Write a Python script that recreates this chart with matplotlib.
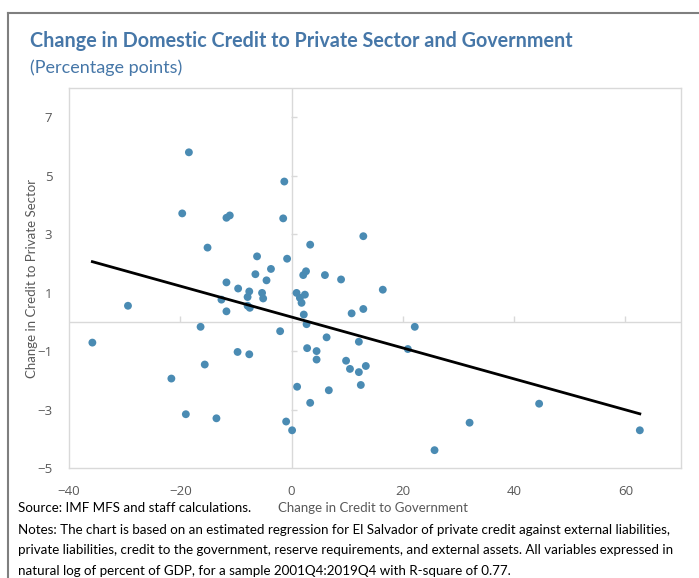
import numpy as np
import matplotlib
matplotlib.use('Agg')
import matplotlib.pyplot as plt
from matplotlib.lines import Line2D
from matplotlib.transforms import offset_copy

# change in credit to government (x) and to private sector (y), pp
gov = [-35.8, -29.4, -21.6, -19.65, -19.0, -18.45, -16.35, -15.6, -15.1, -13.5,
       -12.6, -11.7, -11.1, -11.7, -11.7, -9.6, -9.7, -7.6, -7.9, -7.9,
       -7.5, -7.6, -6.5, -6.2, -5.3, -5.1, -4.5, -3.7, -2.05, -1.5,
       -1.3, -0.8, -0.97, 0.1, 0.9, 1.0, 1.5, 1.8, 2.1, 2.6,
       2.4, 2.2, 2.7, 2.8, 3.35, 3.35, 4.5, 4.5, 6.0, 6.3,
       6.7, 8.9, 9.8, 10.5, 10.8, 12.1, 12.1, 12.45, 12.9, 12.9,
       13.35, 16.4, 20.9, 22.15, 25.7, 32.0, 44.5, 62.6]
priv = [-0.71, 0.55, -1.94, 3.71, -3.16, 5.80, -0.17, -1.46, 2.54, -3.30,
        0.76, 3.56, 3.64, 1.35, 0.36, 1.14, -1.03, 1.04, 0.85, 0.55,
        0.48, -1.11, 1.63, 2.24, 0.99, 0.80, 1.42, 1.81, -0.32, 3.54,
        4.80, 2.16, -3.41, -3.71, 0.99, -2.22, 0.82, 0.65, 1.60, 1.73,
        0.93, 0.25, -0.08, -0.90, 2.64, -2.77, -1.00, -1.29, 1.60, -0.53,
        -2.34, 1.45, -1.33, -1.61, 0.29, -0.68, -1.72, -2.16, 2.93, 0.44,
        -1.51, 1.10, -0.93, -0.17, -4.39, -3.45, -2.80, -3.71]

# fitted trend line
trend_slope = -0.0529
trend_icept = 0.165

xticks = [-40, -20, 0, 20, 40, 60]
yticks = [-5, -3, -1, 1, 3, 5, 7]

blue = '#4A8BB3'
title_blue = '#4677A8'
grey_txt = '#595959'
grid_grey = '#D9D9D9'

fig = plt.figure(figsize=(6.99, 5.78), dpi=100)
ax = fig.add_axes([69/699, 1 - 468/578, (681 - 69)/699, (468 - 88)/578])

ax.scatter(gov, priv, s=32, color=blue, edgecolors='none', zorder=3)
tx = np.array([min(gov), max(gov)])
ax.plot(tx, trend_icept + trend_slope * tx, color='black', lw=2, zorder=4)

ax.set_xlim(-40, 70)
ax.set_ylim(-5, 8)
ax.set_xticks(xticks)
ax.set_yticks(yticks)
ax.tick_params(length=0, labelsize=9.5, labelcolor=grey_txt)
ax.tick_params(axis='x', pad=12)
ax.tick_params(axis='y', pad=12)
for lab in ax.get_xticklabels() + ax.get_yticklabels():
    lab.set_family('Open Sans')
for sp in ax.spines.values():
    sp.set_color(grid_grey)
    sp.set_linewidth(1)

# axes crossing at zero, with small tick marks
ax.axhline(0, color=grid_grey, lw=1, zorder=1)
ax.axvline(0, color=grid_grey, lw=1, zorder=1)
tr_r = offset_copy(ax.transData, fig=fig, x=2.5, y=0, units='dots')
tr_u = offset_copy(ax.transData, fig=fig, x=0, y=2.5, units='dots')
yt_in = [v for v in yticks if v != -5]
xt_in = [v for v in xticks if v not in (-40, 0)]
ax.plot(np.zeros(len(yt_in)), yt_in, ls='none', marker='_', ms=5,
        color=grid_grey, mew=1, transform=tr_r, zorder=1)
ax.plot(xt_in, np.zeros(len(xt_in)), ls='none', marker='|', ms=5,
        color=grid_grey, mew=1, transform=tr_u, zorder=1)

fig.text(373/699, 1 - 508/578, 'Change in Credit to Government', family='Lato',
         fontsize=9.5, color=grey_txt, ha='center', va='center')
fig.text(32/699, 1 - 279/578, 'Change in Credit to Private Sector', family='Lato',
         fontsize=9.5, color=grey_txt, ha='center', va='center', rotation=90)

# titles
fig.text(30/699, 1 - 47/578,
         'Change in Domestic Credit to Private Sector and Government',
         family='Lato', weight='bold', fontsize=14.2, color=title_blue,
         ha='left', va='baseline')
fig.text(30/699, 1 - 73/578, '(Percentage points)', family='Lato',
         fontsize=13, color=title_blue, ha='left', va='baseline')

# source and notes
fig.text(18/699, 1 - 508/578, 'Source: IMF MFS and staff calculations.',
         family='Lato', fontsize=9.6, color='black', ha='left', va='center')
notes = ['Notes: The chart is based on an estimated regression for El Salvador of private credit against external liabilities,',
         'private liabilities, credit to the government, reserve requirements, and external assets. All variables expressed in',
         'natural log of percent of GDP, for a sample 2001Q4:2019Q4 with R-square of 0.77.']
for i, line in enumerate(notes):
    fig.text(18/699, 1 - (530 + 20.5 * i)/578, line, family='Lato',
             fontsize=9.65, color='black', ha='left', va='center')

# outer frame
fig.add_artist(Line2D([8/699, 8/699], [0, 1 - 13/578], transform=fig.transFigure,
                      color='#7F7F7F', lw=1.5))
fig.add_artist(Line2D([8/699, 1], [1 - 13/578, 1 - 13/578], transform=fig.transFigure,
                      color='#7F7F7F', lw=1.5))

fig.savefig('out.png', dpi=100)
